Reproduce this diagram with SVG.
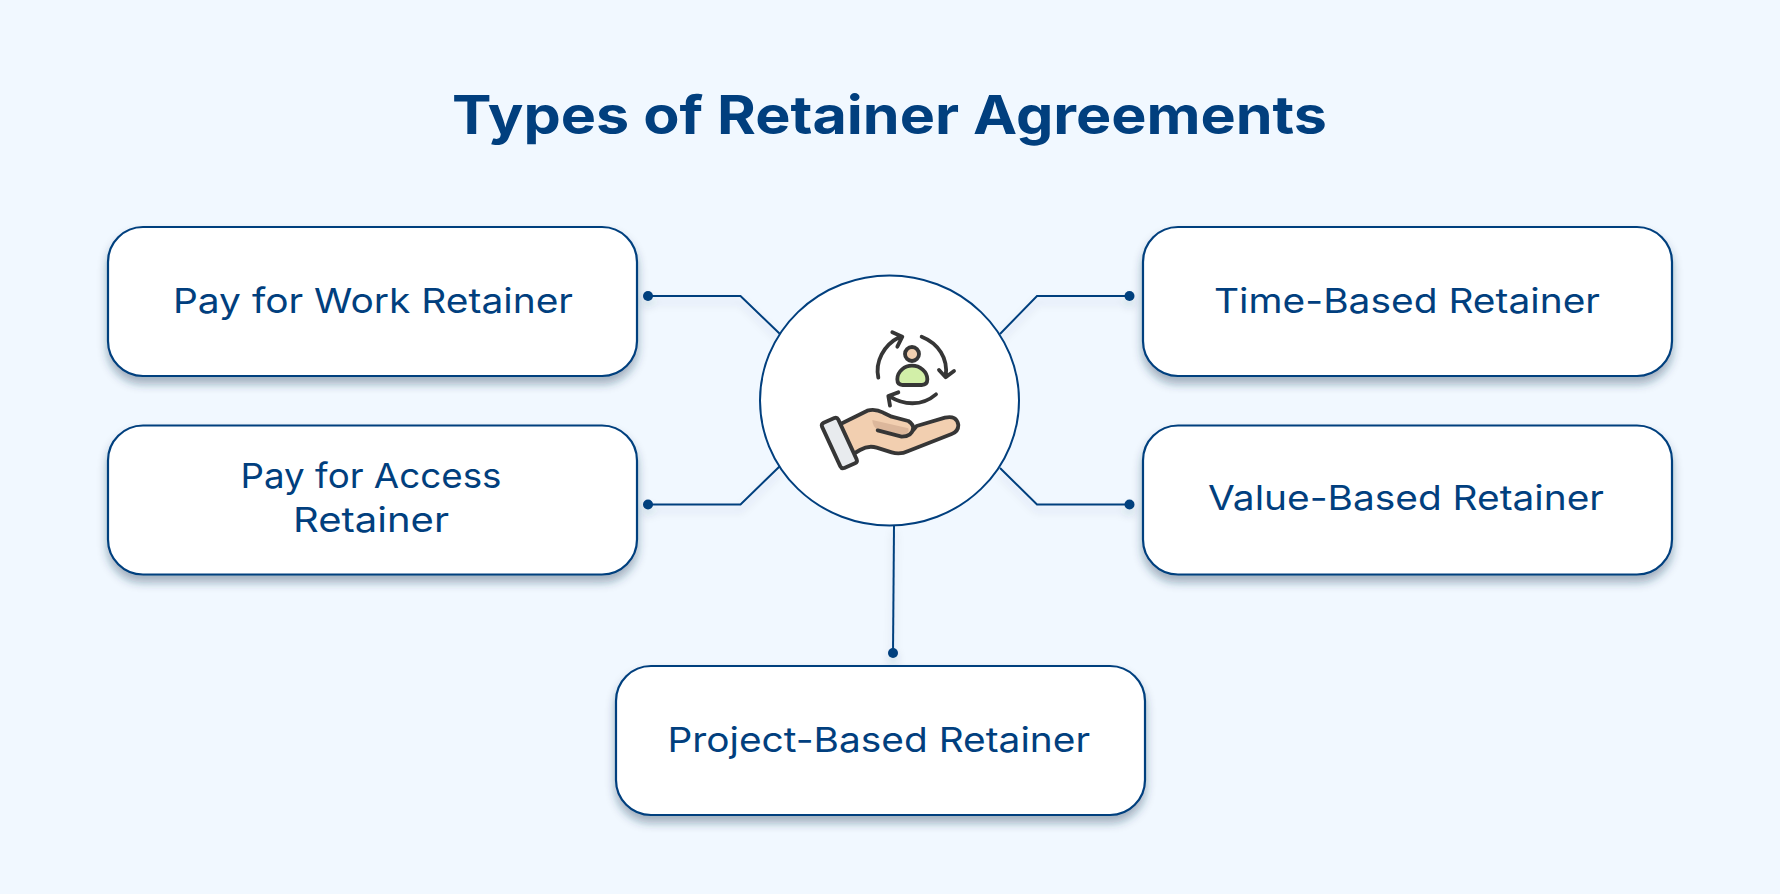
<svg xmlns="http://www.w3.org/2000/svg" width="1780" height="894" viewBox="0 0 1780 894">
<defs>
<filter id="sh" x="-10%" y="-15%" width="120%" height="135%"><feDropShadow dx="0" dy="7" stdDeviation="5" flood-color="#1d3a55" flood-opacity="0.38"/></filter>
<filter id="lsh" x="-10%" y="-30%" width="120%" height="170%"><feDropShadow dx="0" dy="6" stdDeviation="4" flood-color="#1d3a55" flood-opacity="0.16"/></filter>
</defs>
<style>
text{font-family:"Inter","Liberation Sans",sans-serif;fill:#013f7e}
.t{font-size:34.500px;font-weight:400}
.h{font-size:53px;font-weight:700}
.box{fill:#fff;stroke:#013f7e;stroke-width:2.200;filter:url(#sh)}
.ln{fill:none;stroke:#013f7e;stroke-width:2}
.dot{fill:#013f7e}
.ic{stroke:#363636;stroke-width:11.500;stroke-linecap:round;stroke-linejoin:round;fill:none}
</style>
<rect width="1780" height="894" fill="#f1f8ff"/>
<text id="title" class="h" x="452" y="133.500" textLength="875" lengthAdjust="spacingAndGlyphs">Types of Retainer Agreements</text>
<g id="connectors" filter="url(#lsh)">
<path class="ln" d="M648 296H740.500L780 334"/>
<path class="ln" d="M648 504.500H740.500L780 466"/>
<path class="ln" d="M1129.500 296H1037L1000 334"/>
<path class="ln" d="M1129.500 504.500H1037L1000 468"/>
<path class="ln" d="M894 525L893 653"/>
<circle class="dot" cx="648" cy="296" r="5"/>
<circle class="dot" cx="648" cy="504.500" r="5"/>
<circle class="dot" cx="1129.500" cy="296" r="5"/>
<circle class="dot" cx="1129.500" cy="504.500" r="5"/>
<circle class="dot" cx="893" cy="653" r="5"/>
</g>
<g id="n1"><rect class="box" x="108" y="227" width="529" height="149" rx="35"/><text class="t" x="173" y="312.500" textLength="400" lengthAdjust="spacingAndGlyphs">Pay for Work Retainer</text></g>
<g id="n2"><rect class="box" x="108" y="425.500" width="529" height="149" rx="35"/><text class="t" x="240.500" y="487.500" textLength="261" lengthAdjust="spacingAndGlyphs">Pay for Access</text><text class="t" x="293" y="531.500" textLength="156" lengthAdjust="spacingAndGlyphs">Retainer</text></g>
<g id="n3"><rect class="box" x="1143" y="227" width="529" height="149" rx="35"/><text class="t" x="1214" y="312.500" textLength="386" lengthAdjust="spacingAndGlyphs">Time-Based Retainer</text></g>
<g id="n4"><rect class="box" x="1143" y="425.500" width="529" height="149" rx="35"/><text class="t" x="1208" y="510" textLength="396" lengthAdjust="spacingAndGlyphs">Value-Based Retainer</text></g>
<g id="n5"><rect class="box" x="616" y="666" width="529" height="149" rx="35"/><text class="t" x="667.500" y="752" textLength="422.500" lengthAdjust="spacingAndGlyphs">Project-Based Retainer</text></g>
<g id="center">
<ellipse cx="889.500" cy="400.500" rx="129.500" ry="125" fill="#fff" stroke="#013f7e" stroke-width="2"/>
<g transform="translate(780 290) scale(.33333)">
<path class="ic" d="M295 263C285 215 310 165 360 140M337 127L367 140L352 170"/>
<path class="ic" d="M425 140C475 160 505 205 497 258M477 240L497 262L522 243"/>
<path class="ic" d="M468 313C425 350 370 345 330 320M355 307L325 318L330 347"/>
<circle class="ic" cx="396" cy="192" r="21" style="fill:#f2cfb0"/>
<path class="ic" style="fill:#d2efa8" d="M352 268C352 243 375 227 396 227C420 227 442 245 442 268Q442 285 425 285H368Q352 285 352 268Z"/>
<path class="ic" style="fill:#f2cfb0" d="M165 410L262 362Q285 355 310 368L335 380L385 393Q402 403 400 420L410 408L495 383Q530 375 535 405Q535 425 515 432L385 483Q360 495 335 487L290 473Q265 465 240 480L215 495Z"/>
<path d="M277 390L385 415Q390 430 370 434L295 420Q277 410 277 390Z" fill="#dcb79b"/>
<path class="ic" d="M293 421L365 440Q395 440 400 415"/>
<path class="ic" style="fill:#e8ebee" d="M131 398L163 384Q171 381 175 389L230 508Q233 516 225 520L193 534Q185 537 181 529L126 410Q123 402 131 398Z"/>
</g>
</g>
</svg>
